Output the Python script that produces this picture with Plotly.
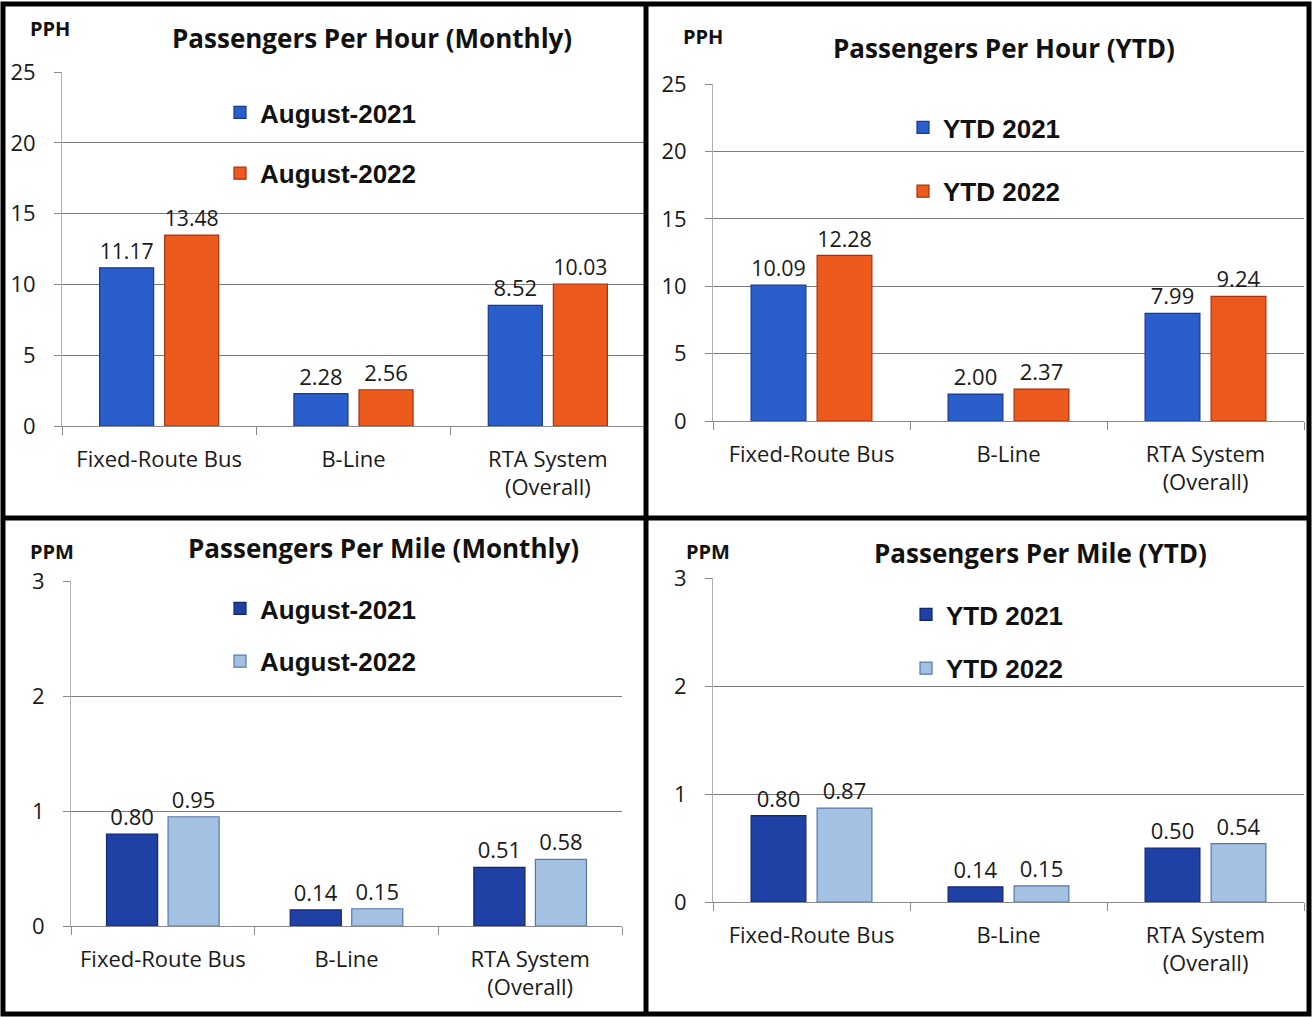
import plotly.graph_objects as go

# ---------------- data ----------------
categories = ["Fixed-Route Bus", "B-Line", "RTA System<br>(Overall)"]

pph_monthly_2021 = [11.17, 2.28, 8.52]
pph_monthly_2022 = [13.48, 2.56, 10.03]
pph_ytd_2021 = [10.09, 2.00, 7.99]
pph_ytd_2022 = [12.28, 2.37, 9.24]

ppm_monthly_2021 = [0.80, 0.14, 0.51]
ppm_monthly_2022 = [0.95, 0.15, 0.58]
ppm_ytd_2021 = [0.80, 0.14, 0.50]
ppm_ytd_2022 = [0.87, 0.15, 0.54]

monthly_names = ["August-2021", "August-2022"]
ytd_names = ["YTD 2021", "YTD 2022"]

titles = ["Passengers Per Hour (Monthly)", "Passengers Per Hour (YTD)",
          "Passengers Per Mile (Monthly)", "Passengers Per Mile (YTD)"]
unit_labels = ["PPH", "PPH", "PPM", "PPM"]

# ---------------- styling ----------------
W, H = 1312, 1017
BLUE = "#2a5fcb"
BLUE_EDGE = "#163a8c"
ORANGE = "#ec5a1d"
ORANGE_EDGE = "#a8300c"
DKBLUE = "#1f41a6"
DKBLUE_EDGE = "#10266e"
LTBLUE = "#a3c1e3"
LTBLUE_EDGE = "#5878a8"

BODY_FONT = "'Open Sans', Lato, sans-serif"
LEG_FONT = "'Liberation Sans', Arial, sans-serif"


def px_x(p):
    return p / W


def px_y(p):
    return 1 - p / H


# panel geometry (pixel positions of plot area)
panels = [
    dict(x0=62, x1=645, y0=426, y1=72, yr=[0, 25], dt=5),
    dict(x0=713, x1=1304, y0=421, y1=84, yr=[0, 25], dt=5),
    dict(x0=71, x1=622, y0=926, y1=581, yr=[0, 3], dt=1),
    dict(x0=713, x1=1304, y0=902, y1=578, yr=[0, 3], dt=1),
]

series = [
    (pph_monthly_2021, pph_monthly_2022, monthly_names, (BLUE, BLUE_EDGE), (ORANGE, ORANGE_EDGE)),
    (pph_ytd_2021, pph_ytd_2022, ytd_names, (BLUE, BLUE_EDGE), (ORANGE, ORANGE_EDGE)),
    (ppm_monthly_2021, ppm_monthly_2022, monthly_names, (DKBLUE, DKBLUE_EDGE), (LTBLUE, LTBLUE_EDGE)),
    (ppm_ytd_2021, ppm_ytd_2022, ytd_names, (DKBLUE, DKBLUE_EDGE), (LTBLUE, LTBLUE_EDGE)),
]

# legend positions: (text-left px, first entry centre px, entry spacing px)
legend_pos = [(262, 113, 59), (945, 128, 62), (262, 609, 51), (948, 615, 52)]

# title positions: (centre x px, centre y px); unit label positions
title_pos = [(372, 38), (1004, 48), (383, 548), (1040, 553)]
unit_pos = [(50, 28), (703, 36), (52, 551), (708, 551)]

fig = go.Figure()
layout = dict(
    width=W, height=H,
    margin=dict(l=0, r=0, t=0, b=0, pad=0, autoexpand=False),
    paper_bgcolor="white", plot_bgcolor="white",
    barmode="group", bargap=0.33, bargroupgap=0.17,
    showlegend=True,
    annotations=[], shapes=[],
)

for i, (p, s) in enumerate(zip(panels, series)):
    n = "" if i == 0 else str(i + 1)
    xa, ya = "x" + n, "y" + n
    leg = "legend" + n
    v1, v2, names, c1, c2 = s
    for vals, name, (fc, lc) in ((v1, names[0], c1), (v2, names[1], c2)):
        fig.add_trace(go.Bar(
            x=categories, y=vals, name=name,
            xaxis=xa, yaxis=ya, legend=leg, legendgroup=f"{i}-{name}",
            marker=dict(color=fc, line=dict(color=lc, width=1.2)),
            texttemplate="%{y:.2f}", textposition="outside",
            textfont=dict(family=BODY_FONT, size=22, color="#1a1a1a"),
            cliponaxis=False,
        ))
    layout["xaxis" + n] = dict(
        domain=[px_x(p["x0"]), px_x(p["x1"])], anchor=ya,
        showline=True, linecolor="#8a8a8a", linewidth=1.2,
        ticks="outside", tickson="boundaries", ticklen=8, tickcolor="#8a8a8a",
        tickfont=dict(family=BODY_FONT, size=22, color="#1a1a1a"),
        ticklabelstandoff=13, showgrid=False, fixedrange=True,
    )
    layout["yaxis" + n] = dict(
        domain=[px_y(p["y0"]), px_y(p["y1"])], anchor=xa,
        range=p["yr"], dtick=p["dt"], tick0=0,
        showline=True, linecolor="#b0b0b0", linewidth=1,
        showgrid=True, gridcolor="#7a7a7a", gridwidth=1,
        ticks="outside", ticklen=7, tickcolor="#8a8a8a",
        tickfont=dict(family=BODY_FONT, size=22, color="#1a1a1a"),
        ticklabelstandoff=14, zeroline=False, fixedrange=True,
    )
    tx, cy, sp = legend_pos[i]
    layout[leg] = dict(
        x=px_x(tx - 42), y=px_y(cy - 24), xanchor="left", yanchor="top",
        bgcolor="rgba(0,0,0,0)", traceorder="grouped", tracegroupgap=sp - 35,
        font=dict(family=LEG_FONT, size=26, color="#111111", weight="bold"),
    )
    layout["annotations"].append(dict(
        text=f"<b>{titles[i]}</b>", xref="paper", yref="paper",
        x=px_x(title_pos[i][0]), y=px_y(title_pos[i][1]),
        xanchor="center", yanchor="middle", showarrow=False,
        font=dict(family=BODY_FONT, size=26, color="#111111"),
    ))
    layout["annotations"].append(dict(
        text=f"<b>{unit_labels[i]}</b>", xref="paper", yref="paper",
        x=px_x(unit_pos[i][0]), y=px_y(unit_pos[i][1]),
        xanchor="center", yanchor="middle", showarrow=False,
        font=dict(family=BODY_FONT, size=20, color="#111111"),
    ))

# panel borders
border = dict(type="line", xref="paper", yref="paper", line=dict(color="black", width=5))
layout["shapes"] = [
    dict(type="rect", xref="paper", yref="paper", x0=px_x(3), x1=px_x(1309),
         y0=px_y(1014), y1=px_y(4), line=dict(color="black", width=5)),
    dict(border, x0=px_x(646), x1=px_x(646), y0=px_y(1014), y1=px_y(4)),
    dict(border, x0=px_x(3), x1=px_x(1309), y0=px_y(518), y1=px_y(518)),
]

fig.update_layout(**layout)
fig.write_html("out.html")
